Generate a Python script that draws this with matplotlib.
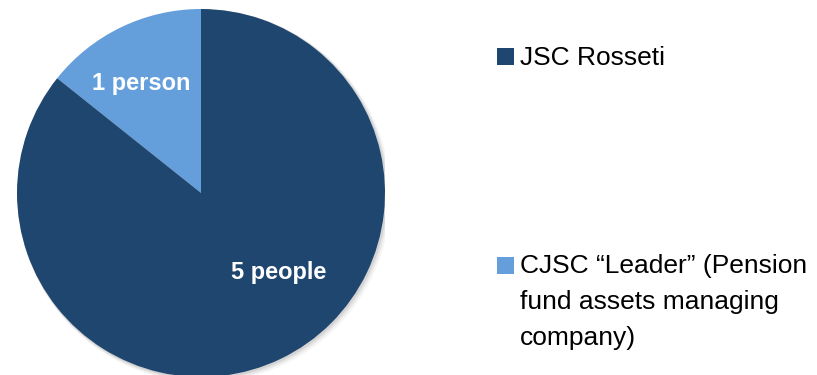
import matplotlib.pyplot as plt
from matplotlib.patches import Circle, Rectangle

plt.rcParams['font.family'] = ['Liberation Sans', 'DejaVu Sans']

# data
owners = ["CJSC \u201cLeader\u201d (Pension\nfund assets managing\ncompany)", "JSC Rosseti"]
shares = [1, 6]  # wedge sizes as drawn in the picture
slice_labels = ["1 person", "5 people"]
colors = ["#659fdb", "#1f466f"]

W, H = 817, 375
fig = plt.figure(figsize=(W / 100, H / 100), dpi=100)

# pie axes: center (201,193), radius 184 px
cx, cy, r = 201, 193, 184
ax = fig.add_axes([(cx - r) / W, (H - cy - r) / H, 2 * r / W, 2 * r / H])
ax.axis("off")

# soft shadow
for k, a in zip([0.030, 0.020, 0.011], [0.08, 0.12, 0.18]):
    ax.add_patch(Circle((k * 0.6, -k * 0.6), 1 + k * 0.4, color="#808080", alpha=a, lw=0, zorder=0))

wedges, _ = ax.pie(shares, colors=colors, startangle=90, counterclock=True,
                   radius=1, wedgeprops=dict(linewidth=0), frame=False)
for w in wedges:
    w.set_zorder(2)
ax.set_xlim(-1, 1)
ax.set_ylim(-1, 1)

# slice labels
ax.text(-0.325, 0.595, slice_labels[0], color="white", fontsize=17, fontweight="bold",
        ha="center", va="center", zorder=3)
ax.text(0.42, -0.43, slice_labels[1], color="white", fontsize=17, fontweight="bold",
        ha="center", va="center", zorder=3)

# legend (dark first, light second)
def px(x, y):
    return x / W, 1 - y / H

sq = 17
legend_rows = [(owners[1], colors[1], 48, 46), (owners[0], colors[0], 257, 254)]
for text, col, ytop, ttop in legend_rows:
    fig.patches.append(Rectangle(px(497, ytop + sq), sq / W, sq / H, transform=fig.transFigure,
                                 facecolor=col, edgecolor="none", figure=fig))
    fig.text(*px(520, ttop), text, fontsize=19, color="black", ha="left", va="top",
             linespacing=1.62)

fig.savefig("out.png", dpi=100)
